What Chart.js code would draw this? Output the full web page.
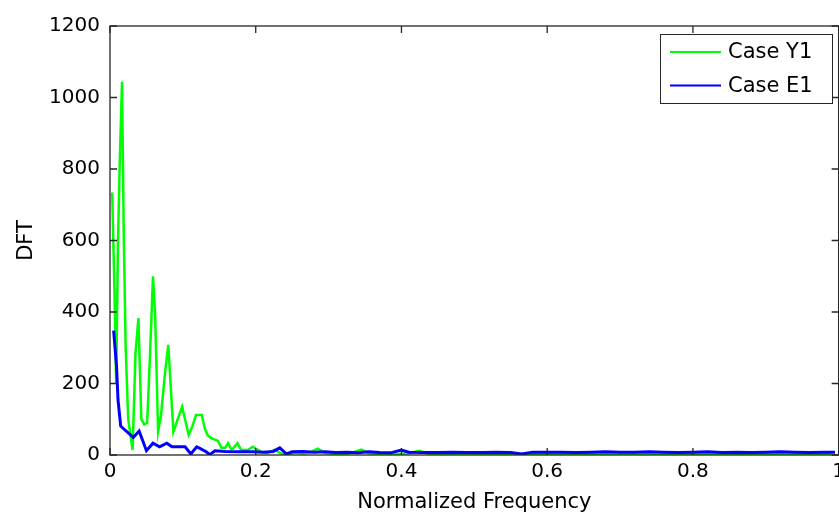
<!DOCTYPE html>
<html>
<head>
<meta charset="utf-8">
<script src="https://cdn.jsdelivr.net/npm/chart.js@4/dist/chart.umd.min.js"></script>
<style>
    html, body { margin: 0; padding: 0; background: #fff; overflow: hidden; }
    #dft-chart { display: block; }
</style>
</head>
<body>
<canvas id="dft-chart" width="850" height="514"></canvas>
<script>
// spectrum of case Y1
var freqY1 = [0.003, 0.006, 0.0085, 0.011, 0.0135, 0.0165, 0.019, 0.0215, 0.025, 0.031,
    0.035, 0.039, 0.043, 0.047, 0.051, 0.055, 0.059, 0.062, 0.066, 0.070,
    0.075, 0.080, 0.087, 0.093, 0.099, 0.108, 0.113, 0.118, 0.126, 0.130,
    0.134, 0.137, 0.141, 0.148, 0.153, 0.158, 0.162, 0.167, 0.175, 0.180,
    0.189, 0.196, 0.203, 0.208, 0.215, 0.226, 0.235, 0.245, 0.255, 0.265,
    0.275, 0.285, 0.295, 0.305, 0.315, 0.325, 0.335, 0.345, 0.355, 0.365,
    0.38, 0.395, 0.41, 0.425, 0.435, 0.45, 0.47, 0.49, 0.51, 0.53,
    0.55, 0.57, 0.59, 0.61, 0.63, 0.65, 0.67, 0.69, 0.71, 0.73,
    0.75, 0.77, 0.79, 0.81, 0.83, 0.85, 0.87, 0.89, 0.91, 0.93,
    0.95, 0.97, 0.99];
var dftY1 = [734, 470, 200, 600, 830, 1044, 600, 300, 100, 14,
    285, 383, 100, 85, 90, 285, 500, 390, 65, 110,
    220, 308, 65, 100, 135, 56, 80, 112, 112, 75,
    55, 50, 45, 40, 20, 20, 33, 14, 33, 14,
    14, 23, 14, 9, 5, 14, 4, 3, 6, 4,
    8, 18, 6, 3, 4, 3, 8, 15, 5, 3,
    4, 3, 5, 12, 4, 3, 3, 4, 3, 3,
    4, 3, 3, 4, 3, 3, 4, 3, 4, 3,
    3, 4, 3, 3, 4, 3, 4, 3, 3, 4,
    3, 4, 3];

// spectrum of case E1
var freqE1 = [0.005, 0.009, 0.011, 0.0147, 0.0205, 0.032, 0.040, 0.050, 0.059, 0.068,
    0.078, 0.085, 0.103, 0.111, 0.119, 0.124, 0.132, 0.137, 0.144, 0.158,
    0.175, 0.196, 0.21, 0.224, 0.233, 0.242, 0.25, 0.265, 0.28, 0.295,
    0.31, 0.325, 0.34, 0.355, 0.37, 0.385, 0.4, 0.41, 0.43, 0.45,
    0.47, 0.49, 0.51, 0.53, 0.55, 0.565, 0.58, 0.60, 0.62, 0.64,
    0.66, 0.68, 0.70, 0.72, 0.74, 0.76, 0.78, 0.80, 0.82, 0.84,
    0.86, 0.88, 0.90, 0.92, 0.94, 0.96, 0.98, 0.995];
var dftE1 = [348, 247, 154, 81, 70, 49, 67, 12, 33, 23,
    33, 23, 23, 3, 23, 18, 9, 1, 12, 10,
    9, 9, 8, 10, 20, 3, 9, 10, 8, 9,
    7, 8, 6, 9, 7, 6, 14, 8, 7, 7,
    8, 7, 7, 8, 7, 3, 8, 8, 8, 7,
    8, 9, 8, 8, 9, 8, 7, 8, 9, 7,
    8, 7, 8, 9, 8, 7, 8, 8];

var xTicks = [0, 0.2, 0.4, 0.6, 0.8, 1];
var yTicks = [0, 200, 400, 600, 800, 1000, 1200];

function toPoints(xs, ys) {
    return xs.map(function (x, i) { return { x: x, y: ys[i] }; });
}

var axisColor = "#262626";
var tickLen = 7;
var fontFamily = "'DejaVu Sans', 'Liberation Sans', Arial, sans-serif";

// box around the plot with inward ticks on all four sides
var boxAxes = {
    id: "boxAxes",
    afterDraw: function (chart) {
        var ctx = chart.ctx;
        var a = chart.chartArea;
        var xs = chart.scales.x, ys = chart.scales.y;
        ctx.save();
        ctx.strokeStyle = axisColor;
        ctx.lineWidth = 1.3;
        ctx.strokeRect(a.left, a.top, a.right - a.left, a.bottom - a.top);
        ctx.beginPath();
        xs.ticks.forEach(function (t) {
            var px = xs.getPixelForValue(t.value);
            ctx.moveTo(px, a.bottom); ctx.lineTo(px, a.bottom - tickLen);
            ctx.moveTo(px, a.top); ctx.lineTo(px, a.top + tickLen);
        });
        ys.ticks.forEach(function (t) {
            var py = ys.getPixelForValue(t.value);
            ctx.moveTo(a.left, py); ctx.lineTo(a.left + tickLen, py);
            ctx.moveTo(a.right, py); ctx.lineTo(a.right - tickLen, py);
        });
        ctx.stroke();
        ctx.restore();
    }
};

// legend box in the upper right corner
var boxLegend = {
    id: "boxLegend",
    afterDraw: function (chart) {
        var ctx = chart.ctx;
        var x0 = 660, y0 = 34, w = 172, h = 69;
        ctx.save();
        ctx.fillStyle = "#fff";
        ctx.fillRect(x0, y0, w, h);
        ctx.strokeStyle = axisColor;
        ctx.lineWidth = 1;
        ctx.strokeRect(x0 + 0.5, y0 + 0.5, w, h);
        ctx.font = "21px " + fontFamily;
        ctx.textBaseline = "middle";
        chart.data.datasets.forEach(function (ds, i) {
            var y = y0 + 18 + i * 33.5;
            ctx.strokeStyle = ds.borderColor;
            ctx.lineWidth = 2;
            ctx.beginPath();
            ctx.moveTo(x0 + 10, y);
            ctx.lineTo(x0 + 61, y);
            ctx.stroke();
            ctx.fillStyle = "#000";
            ctx.fillText(ds.label, x0 + 68, y + 1);
        });
        ctx.restore();
    }
};

var font = { family: fontFamily, size: 20 };
var titleFont = { family: fontFamily, size: 21 };

new Chart(document.getElementById("dft-chart"), {
    type: "line",
    data: {
        datasets: [
            {
                label: "Case Y1",
                data: toPoints(freqY1, dftY1),
                borderColor: "#00ff00",
                borderWidth: 2.5,
                pointRadius: 0,
                tension: 0,
                order: 1
            },
            {
                label: "Case E1",
                data: toPoints(freqE1, dftE1),
                borderColor: "#0000ff",
                borderWidth: 3,
                pointRadius: 0,
                tension: 0,
                order: 0
            }
        ]
    },
    options: {
        responsive: false,
        animation: false,
        layout: { padding: { left: 0, top: 26, right: 10, bottom: 0 } },
        plugins: {
            legend: { display: false },
            tooltip: { enabled: false }
        },
        scales: {
            x: {
                type: "linear",
                min: 0,
                max: 1,
                afterBuildTicks: function (axis) {
                    axis.ticks = xTicks.map(function (v) { return { value: v }; });
                },
                afterFit: function (axis) { axis.height = 59; },
                grid: { display: false, drawTicks: false },
                border: { display: false },
                ticks: {
                    padding: 5,
                    color: "#000",
                    font: font,
                    maxRotation: 0,
                    callback: function (v) { return String(v); }
                },
                title: {
                    display: true,
                    text: "Normalized Frequency",
                    color: "#000",
                    font: titleFont,
                    padding: { top: 0, bottom: -1 }
                }
            },
            y: {
                type: "linear",
                min: 0,
                max: 1200,
                afterBuildTicks: function (axis) {
                    axis.ticks = yTicks.map(function (v) { return { value: v }; });
                },
                afterFit: function (axis) { axis.width = 110; },
                grid: { display: false, drawTicks: false },
                border: { display: false },
                ticks: {
                    padding: 10,
                    color: "#000",
                    font: font,
                    callback: function (v) { return String(v); }
                },
                title: {
                    display: true,
                    text: "DFT",
                    color: "#000",
                    font: titleFont,
                    padding: { top: 14, bottom: 0 }
                }
            }
        }
    },
    plugins: [boxAxes, boxLegend]
});
</script>
</body>
</html>
